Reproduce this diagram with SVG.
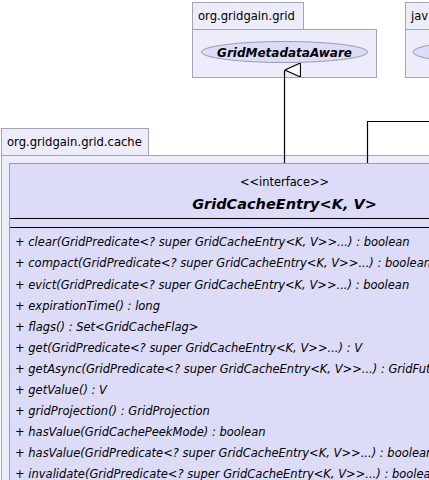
<svg xmlns="http://www.w3.org/2000/svg" width="429" height="480" viewBox="0 0 429 480">
<style>
.pkg{fill:#ececfa;stroke:#a3a3b8;stroke-width:1}
.cls{fill:#dcdcf8;stroke:#9a9ab0;stroke-width:1}
.ell{fill:#dcdcf8;stroke:#9a9ab0;stroke-width:1}
.sep{stroke:#000;stroke-width:1.2}
.conn{fill:none;stroke:#000;stroke-width:1.2}
.ptxt{font-family:"DejaVu Sans",sans-serif;font-size:11.6px;fill:#000}
.mtxt{font-family:"DejaVu Sans",sans-serif;font-size:11.5px;font-style:italic;fill:#000}
.stereo{font-family:"DejaVu Sans",sans-serif;font-size:11.4px;fill:#000}
.title{font-family:"DejaVu Sans",sans-serif;font-size:14.5px;font-style:italic;font-weight:bold;fill:#000}
.etxt{font-family:"DejaVu Sans",sans-serif;font-size:12px;font-style:italic;font-weight:bold;fill:#000}
</style>
<defs>
<marker id="tri" viewBox="0 0 14 16" refX="7" refY="0" markerWidth="14" markerHeight="16" markerUnits="userSpaceOnUse" orient="auto-start-reverse">
<path d="M7 0 L14 16 L0 16 Z" fill="#fff" stroke="#000" stroke-width="1.2"/>
</marker>
</defs>
<rect width="429" height="480" fill="#fff"/>
<g id="pkg-grid">
<rect class="pkg" x="192.5" y="2.5" width="111" height="27"/>
<rect class="pkg" x="192.5" y="29.5" width="184" height="48"/>
<text class="ptxt" x="198" y="20">org.gridgain.grid</text>
</g>
<g id="GridMetadataAware">
<ellipse class="ell" cx="284.5" cy="52" rx="83" ry="10.5"/>
<text class="etxt" x="284.5" y="56.5" text-anchor="middle">GridMetadataAware</text>
</g>
<g id="pkg-java">
<rect class="pkg" x="405.5" y="2.5" width="60" height="27"/>
<rect class="pkg" x="405.5" y="29.5" width="100" height="48"/>
<text class="ptxt" x="411" y="20">jav</text>
<ellipse class="ell" cx="480" cy="52" rx="67" ry="10.5"/>
</g>
<g id="pkg-cache">
<rect class="pkg" x="1.5" y="128.5" width="147" height="27"/>
<rect class="pkg" x="1.5" y="155.5" width="440" height="340"/>
<text class="ptxt" x="7" y="146">org.gridgain.grid.cache</text>
</g>
<g id="connectors">
<path class="conn" d="M284.5 163 V70" marker-end="url(#tri)"/>
<path class="conn" d="M367.5 163 V121.5 H440"/>
</g>
<g id="GridCacheEntry">
<rect class="cls" x="9.5" y="163.5" width="550" height="340"/>
<text class="stereo" x="284.5" y="186" text-anchor="middle">&lt;&lt;interface&gt;&gt;</text>
<text class="title" x="284.5" y="209" text-anchor="middle">GridCacheEntry&lt;K, V&gt;</text>
<line class="sep" x1="10" y1="218.5" x2="560" y2="218.5"/>
<line class="sep" x1="10" y1="227.5" x2="560" y2="227.5"/>
<text class="mtxt" x="15" y="246">+ clear(GridPredicate&lt;? super GridCacheEntry&lt;K, V&gt;&gt;...) : boolean</text>
<text class="mtxt" x="15" y="267">+ compact(GridPredicate&lt;? super GridCacheEntry&lt;K, V&gt;&gt;...) : boolean</text>
<text class="mtxt" x="15" y="289">+ evict(GridPredicate&lt;? super GridCacheEntry&lt;K, V&gt;&gt;...) : boolean</text>
<text class="mtxt" x="15" y="310">+ expirationTime() : long</text>
<text class="mtxt" x="15" y="331">+ flags() : Set&lt;GridCacheFlag&gt;</text>
<text class="mtxt" x="15" y="352">+ get(GridPredicate&lt;? super GridCacheEntry&lt;K, V&gt;&gt;...) : V</text>
<text class="mtxt" x="15" y="373">+ getAsync(GridPredicate&lt;? super GridCacheEntry&lt;K, V&gt;&gt;...) : GridFut</text>
<text class="mtxt" x="15" y="394">+ getValue() : V</text>
<text class="mtxt" x="15" y="415">+ gridProjection() : GridProjection</text>
<text class="mtxt" x="15" y="436">+ hasValue(GridCachePeekMode) : boolean</text>
<text class="mtxt" x="15" y="457">+ hasValue(GridPredicate&lt;? super GridCacheEntry&lt;K, V&gt;&gt;...) : boolean</text>
<text class="mtxt" x="15" y="478">+ invalidate(GridPredicate&lt;? super GridCacheEntry&lt;K, V&gt;&gt;...) : boolean</text>
</g>
</svg>
